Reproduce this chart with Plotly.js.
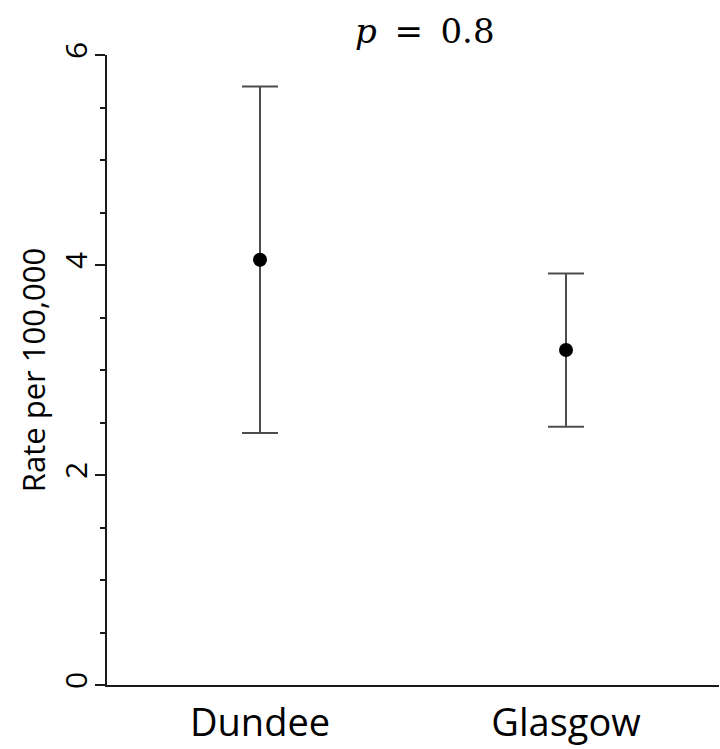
<!DOCTYPE html>
<html>
<head>
<meta charset="utf-8">
<script src="https://cdn.plot.ly/plotly-3.0.1.min.js"></script>
<style>html,body{margin:0;padding:0;background:#fff;}</style>
</head>
<body>
<div id="chart" style="width:720px;height:749px;"></div>
<script>
const cities = ["Dundee", "Glasgow"];
const rates = [4.05, 3.19];
const upperCI = [5.70, 3.92];
const lowerCI = [2.40, 2.46];
const yTicks = [0, 2, 4, 6];
const titleText = "<i>p</i> \u2009= \u20090.8";
const yTitle = "Rate per 100,000";

const trace = {
  type: "scatter",
  mode: "markers",
  x: cities,
  y: rates,
  marker: {color: "#000000", size: 14},
  error_y: {
    type: "data",
    symmetric: false,
    array: upperCI.map((u, i) => u - rates[i]),
    arrayminus: lowerCI.map((l, i) => rates[i] - l),
    color: "#4d4d4d",
    thickness: 2,
    width: 18
  },
  hoverinfo: "skip"
};

const layout = {
  width: 720,
  height: 749,
  autosize: false,
  margin: {l: 107, r: 1, t: 55, b: 64, pad: 0},
  paper_bgcolor: "#ffffff",
  plot_bgcolor: "#ffffff",
  showlegend: false,
  title: {
    text: titleText,
    font: {family: "DejaVu Serif", size: 34, color: "#000000"},
    xref: "container", x: 0.59, xanchor: "center",
    yref: "container", y: 1 - 31/749, yanchor: "middle"
  },
  xaxis: {
    type: "category", range: [-0.5, 1.5],
    showline: true, linewidth: 2, linecolor: "#1a1a1a",
    ticks: "", showgrid: false, zeroline: false,
    ticklabelstandoff: 3,
    tickfont: {family: "Open Sans", size: 38, color: "#000000"},
    fixedrange: true
  },
  yaxis: {
    range: [0, 6],
    tickmode: "array",
    tickvals: yTicks,
    ticktext: yTicks.map(String),
    tickangle: -90,
    ticks: "outside", ticklen: 10, tickwidth: 2, tickcolor: "#1a1a1a",
    ticklabelstandoff: -4,
    minor: {dtick: 0.5, ticks: "outside", ticklen: 5, tickwidth: 2, tickcolor: "#1a1a1a"},
    showline: true, linewidth: 2, linecolor: "#1a1a1a",
    showgrid: false, zeroline: false,
    tickfont: {family: "Open Sans", size: 30, color: "#000000"},
    title: {text: yTitle, font: {family: "Open Sans", size: 31, color: "#000000"}, standoff: 0},
    fixedrange: true
  }
};

Plotly.newPlot("chart", [trace], layout, {displayModeBar: false, staticPlot: true});
</script>
</body>
</html>
